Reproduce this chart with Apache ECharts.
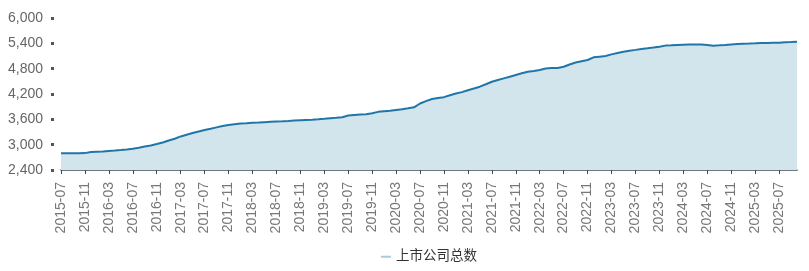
<!DOCTYPE html>
<html><head><meta charset="utf-8">
<script src="https://cdn.jsdelivr.net/npm/echarts@6/dist/echarts.min.js"></script>
<style>html,body{margin:0;padding:0;background:#fff}#c{width:809px;height:271px}</style>
</head><body><div id="c"></div>
<script>
var seriesName = '上市公司总数';
var startYear = 2015, startMonth = 7, monthCount = 124;
var yTicks = [2400, 3000, 3600, 4200, 4800, 5400, 6000];
var listedCount = [
 2797,2797,2798,2798,2800,2827,2835,2840,2852,2862,2873,2887,
 2904,2928,2955,2982,3016,3052,3100,3140,3195,3235,3275,3310,
 3347,3378,3410,3440,3466,3485,3500,3508,3518,3524,3532,3540,
 3546,3552,3560,3570,3578,3584,3590,3600,3612,3625,3636,3648,
 3692,3702,3712,3722,3745,3777,3790,3802,3821,3840,3860,3885,
 3975,4030,4081,4105,4125,4170,4210,4245,4290,4330,4373,4430,
 4490,4530,4570,4610,4650,4690,4725,4745,4768,4805,4815,4818,
 4846,4900,4945,4975,5005,5068,5085,5100,5139,5170,5200,5226,
 5245,5265,5281,5300,5320,5346,5352,5360,5368,5370,5372,5375,
 5360,5344,5352,5362,5375,5385,5391,5395,5400,5407,5410,5413,
 5415,5425,5432,5440
];
var months = [];
for (var i = 0; i < monthCount; i++) {
  var m = startMonth - 1 + i;
  var y = startYear + Math.floor(m / 12);
  var mm = (m % 12) + 1;
  months.push(y + '-' + (mm < 10 ? '0' + mm : '' + mm));
}
var chart = echarts.init(document.getElementById('c'));
chart.setOption({
  animation: false,
  grid: {left: 61, right: 12, top: 18, bottom: 101, containLabel: false},
  legend: {
    data: [{name: seriesName, icon: 'rect', itemStyle: {color: '#a9cbe0'}}],
    left: 376, top: 245, itemWidth: 10, itemHeight: 2, itemGap: 8,
    textStyle: {color: '#333', fontSize: 13.5, fontFamily: 'Liberation Sans, Noto Sans CJK SC, sans-serif'}
  },
  xAxis: {
    type: 'category', data: months, boundaryGap: false,
    axisLine: {lineStyle: {color: '#3d4955', width: 1.5}},
    axisTick: {show: true, interval: 3, length: 4, lineStyle: {color: '#3d4955'}},
    axisLabel: {interval: 3, rotate: 90, margin: 12, color: '#777', fontSize: 14, fontFamily: 'Liberation Sans, Arial, sans-serif'},
    splitLine: {show: false}
  },
  yAxis: {
    type: 'value', min: yTicks[0], max: yTicks[yTicks.length - 1], interval: 600, offset: 7,
    axisLine: {show: false},
    axisTick: {show: true, length: 3, lineStyle: {color: '#555', width: 3}},
    axisLabel: {margin: 11, color: '#666', fontSize: 14, fontFamily: 'Liberation Sans, Arial, sans-serif',
      formatter: function (v) { return v.toLocaleString('en-US'); }},
    splitLine: {show: false}
  },
  series: [{
    name: seriesName, type: 'line', data: listedCount, showSymbol: false, symbol: 'none',
    lineStyle: {color: '#2176a8', width: 2},
    itemStyle: {color: '#2176a8'},
    areaStyle: {color: '#d2e4ec', opacity: 1}
  }]
});
</script></body></html>
